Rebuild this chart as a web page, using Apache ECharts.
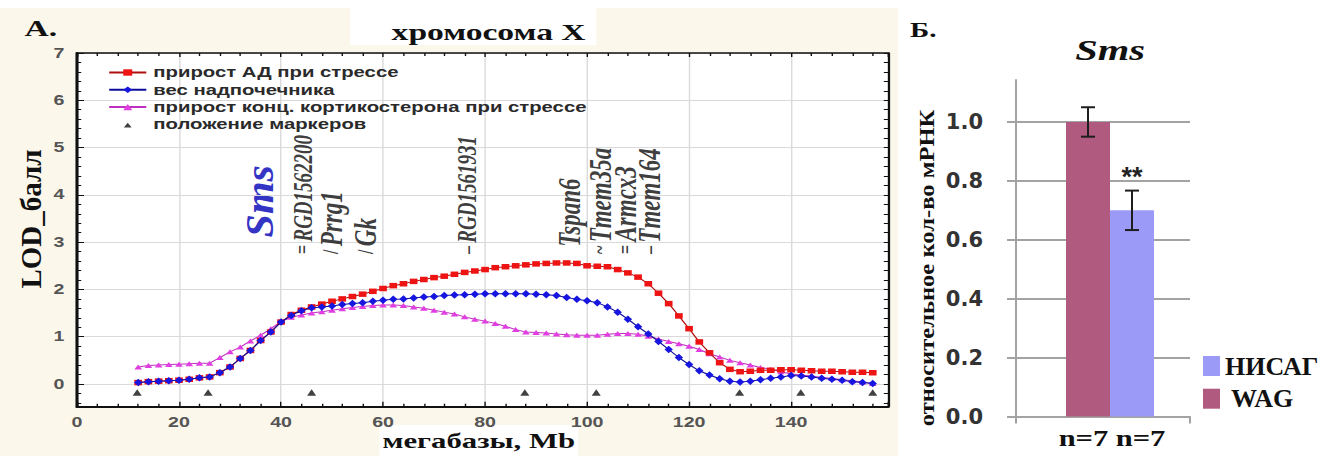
<!DOCTYPE html>
<html>
<head>
<meta charset="utf-8">
<title>хромосома X — Sms</title>
<script src="https://cdn.jsdelivr.net/npm/echarts@6/dist/echarts.min.js"></script>
<style>
  html, body { margin: 0; padding: 0; background: #ffffff; }
  #wrap { position: relative; width: 1323px; height: 456px; overflow: hidden; background: #ffffff; }
  /* panel A is drawn narrow and widened horizontally */
  #qtl { position: absolute; left: 0; top: 0; width: 642px; height: 456px; transform: scaleX(1.4); transform-origin: 0 0; }
  #expr { position: absolute; left: 898px; top: 0; width: 425px; height: 456px; }
</style>
</head>
<body>
<div id="wrap">
  <div id="qtl"></div>
  <div id="expr"></div>
</div>
<script>
// ---------- Panel A: LOD profiles along chromosome X ----------
const positionsMb = [
  12, 14, 16, 18, 20, 22, 24, 26, 28, 30,
  32, 34, 36, 38, 40, 42, 44, 46, 48, 50,
  52, 54, 56, 58, 60, 62, 64, 66, 68, 70,
  72, 74, 76, 78, 80, 82, 84, 86, 88, 90,
  92, 94, 96, 98, 100, 102, 104, 106, 108, 110,
  112, 114, 116, 118, 120, 122, 124, 126, 128, 130,
  132, 134, 136, 138, 140, 142, 144, 146, 148, 150,
  152, 154, 156
];
// прирост АД при стрессе
const lodBloodPressure = [
  0.03, 0.05, 0.06, 0.07, 0.08, 0.10, 0.13, 0.15, 0.24, 0.36,
  0.54, 0.71, 0.92, 1.10, 1.31, 1.47, 1.56, 1.63, 1.69, 1.75,
  1.80, 1.85, 1.90, 1.96, 2.02, 2.08, 2.12, 2.17, 2.21, 2.25,
  2.28, 2.32, 2.36, 2.39, 2.42, 2.46, 2.48, 2.50, 2.52, 2.54,
  2.55, 2.56, 2.56, 2.55, 2.50, 2.49, 2.48, 2.42, 2.35, 2.26,
  2.12, 1.92, 1.70, 1.44, 1.17, 0.89, 0.66, 0.45, 0.31, 0.26,
  0.27, 0.29, 0.29, 0.30, 0.30, 0.29, 0.28, 0.27, 0.27, 0.26,
  0.25, 0.25, 0.24
];
// вес надпочечника
const lodAdrenal = [
  0.03, 0.05, 0.06, 0.07, 0.08, 0.10, 0.13, 0.15, 0.24, 0.36,
  0.54, 0.71, 0.92, 1.10, 1.31, 1.45, 1.55, 1.61, 1.63, 1.65,
  1.68, 1.70, 1.72, 1.75, 1.77, 1.79, 1.80, 1.82, 1.84, 1.85,
  1.87, 1.88, 1.89, 1.90, 1.91, 1.91, 1.91, 1.91, 1.91, 1.90,
  1.89, 1.87, 1.83, 1.79, 1.76, 1.72, 1.63, 1.52, 1.37, 1.21,
  1.06, 0.90, 0.73, 0.56, 0.41, 0.28, 0.19, 0.11, 0.06, 0.04,
  0.06, 0.09, 0.12, 0.15, 0.18, 0.17, 0.15, 0.12, 0.10, 0.08,
  0.05, 0.03, 0.01
];
// прирост конц. кортикостерона при стрессе
const lodCorticosterone = [
  0.36, 0.39, 0.40, 0.41, 0.42, 0.43, 0.44, 0.44, 0.56, 0.68,
  0.78, 0.91, 1.03, 1.17, 1.32, 1.41, 1.46, 1.50, 1.53, 1.56,
  1.59, 1.62, 1.64, 1.66, 1.67, 1.67, 1.66, 1.63, 1.60, 1.56,
  1.52, 1.48, 1.42, 1.37, 1.33, 1.28, 1.22, 1.15, 1.10, 1.09,
  1.08, 1.06, 1.04, 1.03, 1.03, 1.03, 1.05, 1.07, 1.07, 1.05,
  1.01, 0.95, 0.90, 0.85, 0.80, 0.73, 0.64, 0.57, 0.50, 0.45,
  0.40, 0.35, 0.31, 0.26, 0.21, 0.19, 0.17, 0.14, 0.12, 0.09,
  0.07, 0.04, 0.01
];
// положение маркеров
const markerPositionsMb = [11.8, 25.7, 46.0, 87.8, 101.8, 129.9, 141.9, 156.0];
const markerLevel = -0.18;

// genes annotated above the profiles; Sms is the highlighted one
const highlightGene = 'Sms';
const highlightGeneMb = 35.9;
const highlightGeneBase = 3.1;
const geneNames = ['RGD1562200', 'Prrg1', 'Gk', 'RGD1561931', 'Tspan6', 'Tmem35a', 'Armcx3', 'Tmem164'];
const genePositionsMb = [44.3, 49.8, 56.5, 76.5, 96.5, 102.5, 107.5, 112.2];
const genePointers = ['=', '/', '/', '–', '', '~', '=', '–'];
const geneLabelBase = 2.75;

const seriesNames = [
  'прирост АД при стрессе',
  'вес надпочечника',
  'прирост конц. кортикостерона при стрессе',
  'положение маркеров'
];
const lodTickLabels = [0, 1, 2, 3, 4, 5, 6, 7];
const mbTickStep = 20;

// ---------- Panel Б: Sms expression ----------
const groups = ['WAG', 'НИСАГ'];
const relExpression = [1.00, 0.70];
const relExpressionErr = [0.05, 0.067];
const significance = ['', '**'];
const groupSizeLabel = 'n=7 n=7';
const exprTickLabels = [0, 0.2, 0.4, 0.6, 0.8, 1.0];

// ---------------------------------------------------------------
const serif = 'Liberation Serif, Times New Roman, serif';
const sans = 'Liberation Sans, Arial, sans-serif';
const zip = (xs, ys) => xs.map((x, i) => [x, ys[i]]);
const STRETCH = 1.4;

// minor ticks of the LOD axis, every 0.2
const lodMinorTicks = [];
for (let k = -2; k <= 35; k++) lodMinorTicks.push(k / 5);

const qtl = echarts.init(document.getElementById('qtl'), null, { renderer: 'svg' });
const frame = '#111111';
const gridGray = '#dadada';
const ink = '#0a0a0a';

qtl.setOption({
  animation: false,
  backgroundColor: '#fbf7ea',
  graphic: [
    { id: 'topStrip', type: 'rect', z: -5, shape: { x: 0, y: 0, width: 642, height: 8 }, style: { fill: '#ffffff' } },
    { id: 'titleBox', type: 'rect', z: -5, shape: { x: 250, y: 0, width: 176, height: 45 }, style: { fill: '#ffffff' } },
    { id: 'xNameBox', type: 'rect', z: -5, shape: { x: 271, y: 425, width: 142, height: 31 }, style: { fill: '#ffffff' } },
    { id: 'panelA', type: 'text', x: 17.5, y: 28, style: { text: 'А.', font: 'bold 24px ' + serif, fill: '#111', textVerticalAlign: 'middle' } },
    { id: 'title', type: 'text', x: 349, y: 32, style: { text: 'хромосома X', font: 'bold 24px ' + serif, fill: '#111', textAlign: 'center', textVerticalAlign: 'middle' } },
    { id: 'xName', type: 'text', x: 342, y: 441, style: { text: 'мегабазы, Mb', font: 'bold 22px ' + serif, fill: '#111', textAlign: 'center', textVerticalAlign: 'middle' } },
    { id: 'yName', type: 'text', x: 22, y: 219, rotation: Math.PI / 2, scaleY: 1 / STRETCH,
      style: { text: 'LOD_балл', font: 'bold 29px ' + serif, fill: '#111', textAlign: 'center', textVerticalAlign: 'middle' } }
  ],
  grid: { left: 55, top: 53, width: 579.3, height: 353.7, show: true, backgroundColor: '#ffffff', borderWidth: 0 },
  legend: {
    orient: 'vertical', left: 77, top: 65, padding: 0,
    itemWidth: 26.5, itemHeight: 8, itemGap: 2.3,
    selectedMode: false,
    data: [
      { name: seriesNames[0] },
      { name: seriesNames[1] },
      { name: seriesNames[2] },
      { name: seriesNames[3], icon: 'path://M0,0M10,10M1.5,9L5,3L8.5,9Z' }
    ],
    textStyle: { fontFamily: sans, fontWeight: 'bold', fontSize: 14.5, color: '#2a2a2a', lineHeight: 15 }
  },
  xAxis: [
    {
      type: 'value', min: 0, max: 159, interval: mbTickStep, position: 'bottom',
      axisLine: { onZero: false, lineStyle: { color: frame, width: 2.2 } },
      axisTick: { inside: true, length: 5, lineStyle: { color: frame } },
      minorTick: { show: true, splitNumber: 5, length: 3, lineStyle: { color: frame } },
      axisLabel: { showMaxLabel: false, margin: 9, color: '#555', fontFamily: sans, fontWeight: 'bold', fontSize: 14 },
      splitLine: { show: true, lineStyle: { color: gridGray, width: 1 } },
      minorSplitLine: { show: false }
    },
    {
      type: 'value', min: 0, max: 159, interval: mbTickStep, position: 'top',
      axisLine: { onZero: false, lineStyle: { color: frame, width: 1.6 } },
      axisTick: { inside: true, length: 4, lineStyle: { color: frame } },
      minorTick: { show: true, splitNumber: 5, length: 3, lineStyle: { color: frame } },
      axisLabel: { show: false },
      splitLine: { show: false }
    }
  ],
  yAxis: [
    {
      type: 'value', min: -0.48, max: 7, position: 'left',
      axisLine: { show: true, onZero: false, lineStyle: { color: frame, width: 2.2 } },
      axisTick: { show: true, inside: true, length: 5, customValues: lodTickLabels, lineStyle: { color: frame } },
      axisLabel: { customValues: lodTickLabels, margin: 9, color: '#555', fontFamily: sans, fontWeight: 'bold', fontSize: 14 },
      splitLine: { show: true, lineStyle: { color: gridGray, width: 1 } }
    },
    {
      type: 'value', min: -0.48, max: 7, position: 'left',
      axisLine: { show: false, onZero: false },
      axisTick: { show: true, inside: true, length: 3, customValues: lodMinorTicks, lineStyle: { color: frame } },
      axisLabel: { show: false },
      splitLine: { show: false }
    },
    {
      type: 'value', min: -0.48, max: 7, position: 'right',
      axisLine: { show: true, onZero: false, lineStyle: { color: frame, width: 1.6 } },
      axisTick: { show: true, inside: true, length: 3, customValues: lodMinorTicks, lineStyle: { color: frame } },
      axisLabel: { show: false },
      splitLine: { show: false }
    }
  ],
  series: [
    {
      name: seriesNames[2], type: 'line', data: zip(positionsMb, lodCorticosterone),
      symbol: 'triangle', symbolSize: [5.5, 5], showAllSymbol: true,
      itemStyle: { color: '#e03ee0' }, lineStyle: { color: '#c030c0', width: 1 }, z: 3
    },
    {
      name: seriesNames[0], type: 'line', data: zip(positionsMb, lodBloodPressure),
      symbol: 'rect', symbolSize: [5.5, 5.5], showAllSymbol: true,
      itemStyle: { color: '#ee1414' }, lineStyle: { color: '#b01010', width: 1 }, z: 4
    },
    {
      name: seriesNames[1], type: 'line', data: zip(positionsMb, lodAdrenal),
      symbol: 'diamond', symbolSize: [6, 7.5], showAllSymbol: true,
      itemStyle: { color: '#1616e0' }, lineStyle: { color: '#0c0c9a', width: 1 }, z: 5
    },
    {
      name: seriesNames[3], type: 'scatter', data: markerPositionsMb.map(x => [x, markerLevel]),
      symbol: 'triangle', symbolSize: [6.5, 6.5],
      itemStyle: { color: '#111111' }, z: 5
    },
    {
      name: 'genes', type: 'scatter', silent: true, symbolSize: 0,
      data: geneNames.map((g, i) => ({ name: g, value: [genePositionsMb[i], geneLabelBase] })),
      label: {
        show: true, position: [0, 0], rotate: 90,
        align: 'left', verticalAlign: 'middle',
        formatter: p => {
          const ptr = genePointers[p.dataIndex];
          const style = /\d{4,}/.test(p.name) ? 'id' : 'g';
          return (ptr ? '{m|' + ptr + '} ' : '{m| } ') + '{' + style + '|' + p.name + '}';
        },
        rich: {
          m: { fontFamily: serif, fontWeight: 'bold', fontSize: 16, color: ink },
          g: { fontFamily: serif, fontStyle: 'italic', fontWeight: 'bold', fontSize: 23, color: ink },
          id: { fontFamily: serif, fontStyle: 'italic', fontWeight: 'bold', fontSize: 19, color: ink }
        }
      },
      z: 6
    }
  ]
});

// the highlighted gene is written upright-proportioned, placed through the axes' scales
const smsAt = qtl.convertToPixel({ xAxisIndex: 0, yAxisIndex: 0 }, [highlightGeneMb, highlightGeneBase]);
qtl.setOption({
  graphic: [{
    id: 'smsGene', type: 'text', x: smsAt[0], y: smsAt[1], rotation: Math.PI / 2, scaleY: 0.67,
    style: { text: highlightGene, font: 'italic bold 42px ' + serif, fill: '#3434c4', textAlign: 'left', textVerticalAlign: 'middle' }
  }]
});

// ---------- Panel Б ----------
const expr = echarts.init(document.getElementById('expr'), null, { renderer: 'svg' });
const BAR_W = 44;
const LEAD_W = 14;
const totalW = LEAD_W + BAR_W * groups.length;
const barOffsets = groups.map((g, i) => -totalW / 2 + LEAD_W + BAR_W * (i + 0.5));
const axisGray = '#a3a3a3';

expr.setOption({
  animation: false,
  backgroundColor: '#ffffff',
  graphic: [
    { type: 'text', x: 12, y: 30, scaleX: 1.45, style: { text: 'Б.', font: 'bold 20px ' + serif, fill: '#111', textVerticalAlign: 'middle' } },
    { type: 'text', x: 212, y: 50, scaleX: 1.35, style: { text: 'Sms', font: 'italic bold 30px ' + serif, fill: '#111', textAlign: 'center', textVerticalAlign: 'middle' } },
    { type: 'text', x: 29, y: 268, rotation: Math.PI / 2, scaleX: 1.17,
      style: { text: 'относительное кол-во мРНК', font: 'bold 21px ' + serif, fill: '#111', textAlign: 'center', textVerticalAlign: 'middle' } },
    { type: 'text', x: 214, y: 438, scaleX: 1.27,
      style: { text: groupSizeLabel, font: 'bold 24px ' + serif, fill: '#111', textAlign: 'center', textVerticalAlign: 'middle' } }
  ],
  grid: { left: 118, top: 80, width: 174, height: 336.5 },
  legend: {
    orient: 'vertical', left: 305, top: 353, padding: 0,
    itemWidth: 17, itemHeight: 20, itemGap: 6.7, icon: 'rect',
    selectedMode: false,
    data: ['НИСАГ', 'WAG'],
    formatter: n => (n === 'WAG' ? ' ' + n : n),
    textStyle: { fontFamily: serif, fontWeight: 'bold', fontSize: 26, color: '#111', lineHeight: 20 }
  },
  xAxis: {
    type: 'category', data: [groupSizeLabel],
    axisLine: { lineStyle: { color: axisGray, width: 2 } },
    axisTick: { show: true, length: 7, lineStyle: { color: axisGray, width: 2 } },
    axisLabel: { show: false }
  },
  yAxis: {
    type: 'value', min: 0, max: 1.1425,
    axisLine: { show: true, lineStyle: { color: axisGray, width: 2 } },
    axisTick: { show: true, length: 9, customValues: exprTickLabels, lineStyle: { color: axisGray, width: 2 } },
    axisLabel: { customValues: exprTickLabels, margin: 33, formatter: v => v.toFixed(1), fontFamily: 'DejaVu Sans, Verdana, sans-serif', fontWeight: 'bold', fontSize: 21, color: '#333' },
    splitLine: { show: true, lineStyle: { color: axisGray, width: 2 } }
  },
  series: [
    { type: 'bar', data: [0], barWidth: LEAD_W, itemStyle: { color: 'rgba(0,0,0,0)' }, silent: true },
    { name: groups[0], type: 'bar', data: [relExpression[0]], barWidth: BAR_W, barGap: '0%', itemStyle: { color: '#b05a80' } },
    { name: groups[1], type: 'bar', data: [relExpression[1]], barWidth: BAR_W, barGap: '0%', itemStyle: { color: '#9b9bf7' } },
    {
      type: 'custom', silent: true, z: 10,
      data: relExpression.map((v, i) => [0, v, relExpressionErr[i]]),
      renderItem: (params, api) => {
        const i = params.dataIndex;
        const mean = api.value(1), err = api.value(2);
        const x = api.coord([0, mean])[0] + barOffsets[i];
        const yHi = api.coord([0, mean + err])[1];
        const yLo = api.coord([0, mean - err])[1];
        const st = { stroke: '#1e1e1e', lineWidth: 2 };
        const children = [
          { type: 'line', shape: { x1: x, y1: yHi, x2: x, y2: yLo }, style: st },
          { type: 'line', shape: { x1: x - 7, y1: yHi, x2: x + 7, y2: yHi }, style: st },
          { type: 'line', shape: { x1: x - 7, y1: yLo, x2: x + 7, y2: yLo }, style: st }
        ];
        if (significance[i]) {
          children.push({ type: 'text', x: x, y: yHi - 14, style: { text: significance[i], font: 'bold 27px ' + sans, fill: '#222', textAlign: 'center', textVerticalAlign: 'middle' } });
        }
        return { type: 'group', children };
      }
    }
  ]
});
</script>
</body>
</html>
